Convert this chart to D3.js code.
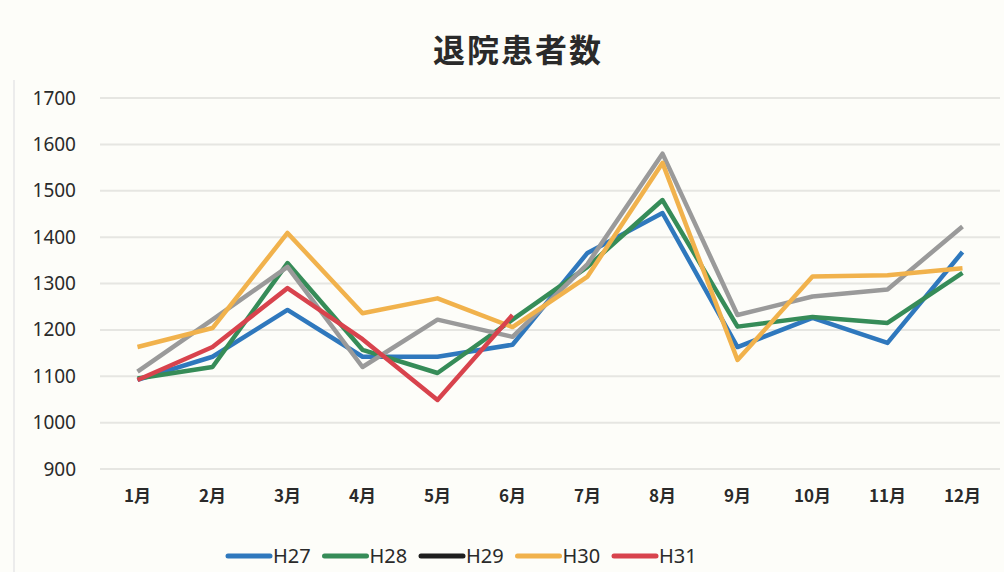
<!DOCTYPE html>
<html>
<head>
<meta charset="utf-8">
<script src="https://cdn.jsdelivr.net/npm/d3@7"></script>
<style>
  body { margin: 0; background: #fdfdf9; }
  svg { display: block; }
</style>
</head>
<body>
<svg width="1004" height="572"></svg>
<script>
// data
const months = ["1月", "2月", "3月", "4月", "5月", "6月", "7月", "8月", "9月", "10月", "11月", "12月"];
const yTicks = [900, 1000, 1100, 1200, 1300, 1400, 1500, 1600, 1700];
const h27 = [1092, 1142, 1243, 1142, 1142, 1168, 1366, 1452, 1163, 1226, 1172, 1368];
const h28 = [1095, 1120, 1344, 1157, 1107, 1222, 1336, 1480, 1207, 1228, 1215, 1323];
const h29 = [1110, 1222, 1336, 1120, 1222, 1185, 1342, 1580, 1232, 1272, 1287, 1423];
const h30 = [1163, 1204, 1409, 1236, 1268, 1206, 1315, 1560, 1135, 1315, 1318, 1333];
const h31 = [1092, 1163, 1290, 1180, 1049, 1232];

const series = [
    { name: "H27", values: h27, color: "#2f78bd", key: "#2f78bd" },
    { name: "H28", values: h28, color: "#368c58", key: "#368c58" },
    { name: "H29", values: h29, color: "#9a9a9a", key: "#1e1e1e" },
    { name: "H30", values: h30, color: "#f1b24c", key: "#f1b24c" },
    { name: "H31", values: h31, color: "#d8434d", key: "#d8434d" }
];

const svg = d3.select("svg");
const font = "'Noto Sans CJK JP', 'Noto Sans', sans-serif";

// scales
const x = d3.scaleBand().domain(months).range([100, 1000]);
const y = d3.scaleLinear().domain([900, 1700]).range([469, 98]);

// faint left edge of the scanned sheet
svg.append("line")
    .attr("x1", 14).attr("x2", 14).attr("y1", 80).attr("y2", 572)
    .attr("stroke", "#ececec").attr("stroke-width", 2);

// gridlines
svg.append("g")
    .selectAll("line")
    .data(yTicks)
    .enter()
    .append("line")
    .attr("x1", 100).attr("x2", 1000)
    .attr("y1", d => y(d)).attr("y2", d => y(d))
    .attr("stroke", "#e6e6e2")
    .attr("stroke-width", 2);

// y axis labels
const yAxis = svg.append("g")
    .attr("transform", "translate(76,0)")
    .call(d3.axisLeft(y).tickValues(yTicks).tickFormat(d3.format("d")).tickSize(0).tickPadding(0));
yAxis.select(".domain").remove();
yAxis.selectAll("text")
    .attr("font-family", "'Noto Sans', sans-serif")
    .attr("font-size", 19)
    .attr("fill", "#2a2a2a");

// x axis labels
const xAxis = svg.append("g")
    .attr("transform", "translate(0,490)")
    .call(d3.axisBottom(x).tickSize(0).tickPadding(0));
xAxis.select(".domain").remove();
xAxis.selectAll("text")
    .attr("font-family", font)
    .attr("font-size", 17)
    .attr("font-weight", "bold")
    .attr("fill", "#2a2a2a");

// lines
const line = d3.line()
    .x((d, i) => x(months[i]) + x.bandwidth() / 2)
    .y(d => y(d));

svg.append("g")
    .selectAll("path")
    .data(series)
    .enter()
    .append("path")
    .attr("d", d => line(d.values))
    .attr("fill", "none")
    .attr("stroke", d => d.color)
    .attr("stroke-width", 4.5)
    .attr("stroke-linejoin", "round");

// title
svg.append("text")
    .attr("x", 518).attr("y", 62)
    .attr("text-anchor", "middle")
    .attr("font-family", font)
    .attr("font-size", 32)
    .attr("font-weight", "bold")
    .attr("letter-spacing", 2)
    .attr("fill", "#2a2a2a")
    .text("退院患者数");

// legend
const legend = svg.append("g")
    .selectAll("g")
    .data(series)
    .enter()
    .append("g")
    .attr("transform", (d, i) => `translate(${228 + i * 96.5},556)`);

legend.append("line")
    .attr("x1", 0).attr("x2", 42)
    .attr("stroke", d => d.key)
    .attr("stroke-width", 5)
    .attr("stroke-linecap", "round");

legend.append("text")
    .attr("x", 45).attr("y", 7)
    .attr("font-family", "'Noto Sans', sans-serif")
    .attr("font-size", 20)
    .attr("fill", "#2a2a2a")
    .text(d => d.name);
</script>
</body>
</html>
